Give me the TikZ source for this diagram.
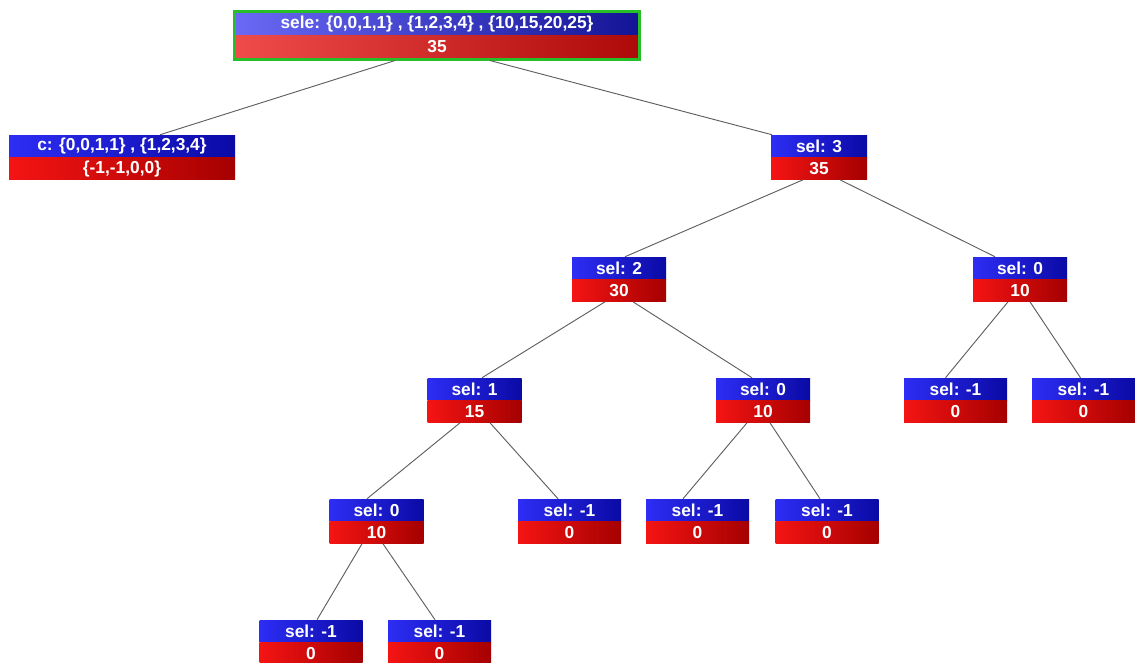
\documentclass[tikz,border=0pt]{standalone}
\usepackage{fontspec}
\setmainfont{Liberation Sans}
\usetikzlibrary{positioning, calc, fit}
\definecolor{selleft}{RGB}{45,45,245}
\definecolor{selright}{RGB}{10,10,165}
\definecolor{valleft}{RGB}{245,20,20}
\definecolor{valright}{RGB}{165,0,0}
\definecolor{rootselleft}{RGB}{105,105,245}
\definecolor{rootselright}{RGB}{20,20,150}
\definecolor{rootvalleft}{RGB}{240,75,75}
\definecolor{rootvalright}{RGB}{175,10,10}
\definecolor{framegreen}{RGB}{40,190,40}
\definecolor{edgegray}{RGB}{95,95,95}
\tikzstyle{box} = [rectangle, minimum height=16.5pt, inner sep=0pt,
                   text=white, font=\fontsize{13}{13}\selectfont\bfseries]
\tikzstyle{selpart} = [box, left color=selleft, right color=selright]
\tikzstyle{valpart} = [box, left color=valleft, right color=valright]
\tikzstyle{inner} = [minimum width=70.5pt]
\tikzstyle{leaf} = [minimum width=77.25pt]
\tikzstyle{edge} = [edgegray, line width=0.7pt]

\begin{document}
\begin{tikzpicture}[x=0.75pt, y=-0.75pt]
        \useasboundingbox (0,0) rectangle (1135,662);

        %Root
        \node (Root) [box, left color=rootselleft, right color=rootselright, minimum width=301.5pt] at (437,24) {sele: \{0,0,1,1\} , \{1,2,3,4\} , \{10,15,20,25\}};
        \node (RootVal) [box, left color=rootvalleft, right color=rootvalright, minimum width=301.5pt, below=0pt of Root] {35};
        \node (RootFrame) [fit=(Root)(RootVal), draw=framegreen, line width=1.9pt, inner sep=1.1pt] {};

        %First level
        \node (C) [selpart, minimum width=169.5pt] at (122,146) {c: \{0,0,1,1\} , \{1,2,3,4\}};
        \node (CVal) [valpart, minimum width=169.5pt, below=0pt of C] {\{-1,-1,0,0\}};
        \node (Sel3) [selpart, minimum width=72pt] at (819,146) {sel: 3};
        \node (Sel3Val) [valpart, minimum width=72pt, below=0pt of Sel3] {35};

        %Second level
        \node (Sel2) [selpart, inner] at (619,268) {sel: 2};
        \node (Sel2Val) [valpart, inner, below=0pt of Sel2] {30};
        \node (Sel0R) [selpart, inner] at (1020,268) {sel: 0};
        \node (Sel0RVal) [valpart, inner, below=0pt of Sel0R] {10};

        %Third level
        \node (Sel1) [selpart, inner] at (474.5,389) {sel: 1};
        \node (Sel1Val) [valpart, inner, below=0pt of Sel1] {15};
        \node (Sel0M) [selpart, inner] at (763,389) {sel: 0};
        \node (Sel0MVal) [valpart, inner, below=0pt of Sel0M] {10};
        \node (LeafA) [selpart, leaf] at (955.5,389) {sel: -1};
        \node (LeafAVal) [valpart, leaf, below=0pt of LeafA] {0};
        \node (LeafB) [selpart, leaf] at (1083.5,389) {sel: -1};
        \node (LeafBVal) [valpart, leaf, below=0pt of LeafB] {0};

        %Fourth level
        \node (Sel0L) [selpart, inner] at (376.5,510) {sel: 0};
        \node (Sel0LVal) [valpart, inner, below=0pt of Sel0L] {10};
        \node (LeafC) [selpart, leaf] at (569.5,510) {sel: -1};
        \node (LeafCVal) [valpart, leaf, below=0pt of LeafC] {0};
        \node (LeafD) [selpart, leaf] at (697.5,510) {sel: -1};
        \node (LeafDVal) [valpart, leaf, below=0pt of LeafD] {0};
        \node (LeafE) [selpart, leaf] at (827,510) {sel: -1};
        \node (LeafEVal) [valpart, leaf, below=0pt of LeafE] {0};

        %Fifth level
        \node (LeafF) [selpart, leaf] at (311,631) {sel: -1};
        \node (LeafFVal) [valpart, leaf, below=0pt of LeafF] {0};
        \node (LeafG) [selpart, leaf] at (439.5,631) {sel: -1};
        \node (LeafGVal) [valpart, leaf, below=0pt of LeafG] {0};

        %Edges
        \draw [edge] ($(RootFrame.south)+(-42,0)$) -- ($(C.north)+(38,0)$);
        \draw [edge] ($(RootFrame.south)+(53,0)$) -- ($(Sel3.north)+(-47,0)$);
        \draw [edge] ($(Sel3Val.south)+(-16,0)$) -- ($(Sel2.north)+(6,0)$);
        \draw [edge] ($(Sel3Val.south)+(21,0)$) -- ($(Sel0R.north)+(-25,0)$);
        \draw [edge] ($(Sel2Val.south)+(-14,0)$) -- ($(Sel1.north)+(7.5,0)$);
        \draw [edge] ($(Sel2Val.south)+(14,0)$) -- ($(Sel0M.north)+(-11,0)$);
        \draw [edge] ($(Sel0RVal.south)+(-12,0)$) -- ($(LeafA.north)+(-10,0)$);
        \draw [edge] ($(Sel0RVal.south)+(10,0)$) -- ($(LeafB.north)+(-3,0)$);
        \draw [edge] ($(Sel1Val.south)+(-14.5,0)$) -- ($(Sel0L.north)+(-9.5,0)$);
        \draw [edge] ($(Sel1Val.south)+(15.5,0)$) -- ($(LeafC.north)+(-11.5,0)$);
        \draw [edge] ($(Sel0MVal.south)+(-16,0)$) -- ($(LeafD.north)+(-14.5,0)$);
        \draw [edge] ($(Sel0MVal.south)+(7,0)$) -- ($(LeafE.north)+(-7,0)$);
        \draw [edge] ($(Sel0LVal.south)+(-14.5,0)$) -- ($(LeafF.north)+(6,0)$);
        \draw [edge] ($(Sel0LVal.south)+(6.5,0)$) -- ($(LeafG.north)+(-4.5,0)$);

\end{tikzpicture}
\end{document}
